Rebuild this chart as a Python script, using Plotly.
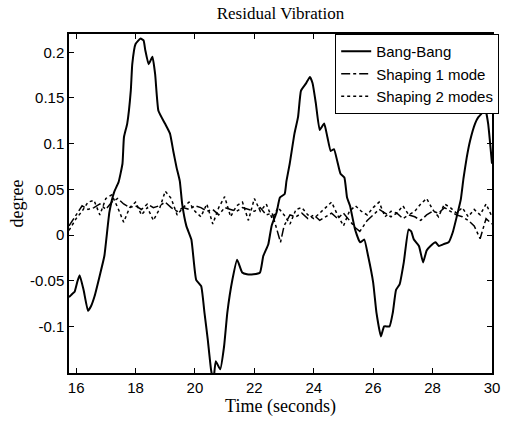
import plotly.graph_objects as go

# Bang-Bang response (time, degree)
bang_t = [15.76, 15.85, 15.95, 16.05, 16.12, 16.25, 16.40, 16.50, 16.62, 16.79, 16.95, 17.12,
          17.28, 17.43, 17.56, 17.61, 17.72, 17.84, 17.89, 18.00, 18.17, 18.27, 18.33, 18.44,
          18.57, 18.66, 18.77, 18.99, 19.16, 19.27, 19.38, 19.49, 19.57, 19.71, 19.88, 20.04,
          20.21, 20.32, 20.43, 20.54, 20.62, 20.70, 20.85, 20.98, 21.09, 21.26, 21.42, 21.59,
          21.75, 21.97, 22.19, 22.30, 22.47, 22.58, 22.75, 22.86, 23.02, 23.08, 23.19, 23.35,
          23.47, 23.57, 23.74, 23.87, 23.96, 24.07, 24.20, 24.35, 24.46, 24.57, 24.68, 24.79,
          24.90, 25.03, 25.12, 25.22, 25.39, 25.56, 25.70, 25.83, 26.00, 26.11, 26.26, 26.37,
          26.55, 26.66, 26.77, 26.89, 27.03, 27.19, 27.28, 27.37, 27.54, 27.68, 27.80, 27.93,
          28.10, 28.21, 28.37, 28.54, 28.68, 28.82, 28.95, 29.04, 29.15, 29.26, 29.43, 29.54,
          29.65, 29.76, 29.87, 30.00]
bang_y = [-0.068, -0.065, -0.062, -0.050, -0.044, -0.060, -0.083, -0.078, -0.067, -0.045, -0.023, 0.025,
          0.047, 0.058, 0.078, 0.107, 0.122, 0.158, 0.187, 0.209, 0.215, 0.213, 0.202, 0.187,
          0.195, 0.176, 0.136, 0.122, 0.111, 0.092, 0.074, 0.059, 0.034, 0.010, -0.005, -0.049,
          -0.056, -0.085, -0.114, -0.147, -0.160, -0.138, -0.147, -0.122, -0.085, -0.049, -0.027, -0.041,
          -0.043, -0.043, -0.041, -0.023, -0.010, 0.010, 0.025, 0.041, 0.045, 0.059, 0.078, 0.111,
          0.129, 0.158, 0.166, 0.173, 0.166, 0.144, 0.115, 0.122, 0.107, 0.092, 0.094, 0.081,
          0.067, 0.063, 0.041, 0.032, 0.006, -0.008, -0.005, -0.023, -0.052, -0.085, -0.111, -0.100,
          -0.100, -0.085, -0.060, -0.054, -0.030, 0.006, 0.004, -0.005, -0.012, -0.030, -0.017, -0.012,
          -0.008, -0.012, -0.010, -0.008, 0.003, 0.021, 0.039, 0.062, 0.085, 0.103, 0.122, 0.129,
          0.133, 0.140, 0.122, 0.078]

# Shaping 1 mode
s1_t = [15.76, 16.0, 16.2, 16.4, 16.6, 16.8, 17.0, 17.2, 17.4, 17.6, 17.8, 18.0, 18.2, 18.4,
        18.6, 18.8, 19.0, 19.2, 19.4, 19.6, 19.8, 20.0, 20.2, 20.4, 20.6, 20.8, 21.0, 21.2,
        21.4, 21.6, 21.8, 22.0, 22.2, 22.4, 22.6, 22.75, 22.88, 23.0, 23.2, 23.4, 23.6, 23.8,
        24.0, 24.2, 24.4, 24.6, 24.8, 25.0, 25.2, 25.4, 25.55, 25.8, 26.0, 26.2, 26.4, 26.6,
        26.8, 27.0, 27.2, 27.4, 27.6, 27.8, 28.0, 28.2, 28.4, 28.6, 28.8, 29.0, 29.2, 29.4,
        29.6, 29.8, 30.0]
s1_y = [0.010, 0.022, 0.032, 0.028, 0.030, 0.034, 0.028, 0.036, 0.040, 0.034, 0.030, 0.032, 0.028, 0.034,
        0.030, 0.032, 0.036, 0.030, 0.026, 0.030, 0.028, 0.032, 0.030, 0.026, 0.028, 0.022, 0.030, 0.028,
        0.026, 0.030, 0.028, 0.026, 0.030, 0.022, 0.024, 0.008, -0.008, 0.010, 0.022, 0.020, 0.024, 0.018,
        0.022, 0.016, 0.020, 0.024, 0.018, 0.024, 0.016, 0.008, 0.004, 0.016, 0.022, 0.028, 0.024, 0.020,
        0.024, 0.018, 0.022, 0.020, 0.016, 0.022, 0.026, 0.024, 0.030, 0.026, 0.022, 0.020, 0.016, 0.010,
        -0.004, 0.018, 0.012]

# Shaping 2 modes
s2_t = [15.76, 16.0, 16.2, 16.4, 16.6, 16.8, 17.0, 17.2, 17.4, 17.6, 17.8, 18.0, 18.2, 18.4,
        18.6, 18.8, 19.0, 19.2, 19.4, 19.6, 19.8, 20.0, 20.2, 20.4, 20.6, 20.8, 21.0, 21.2,
        21.4, 21.6, 21.8, 22.0, 22.2, 22.4, 22.6, 22.8, 23.0, 23.2, 23.4, 23.6, 23.8, 24.0,
        24.2, 24.4, 24.6, 24.8, 25.0, 25.2, 25.4, 25.6, 25.8, 26.0, 26.2, 26.4, 26.6, 26.8,
        27.0, 27.2, 27.4, 27.6, 27.8, 28.0, 28.2, 28.4, 28.6, 28.8, 29.0, 29.2, 29.4, 29.6,
        29.8, 30.0]
s2_y = [0.005, 0.018, 0.026, 0.036, 0.038, 0.022, 0.040, 0.044, 0.030, 0.014, 0.030, 0.036, 0.022, 0.030,
        0.016, 0.028, 0.048, 0.040, 0.022, 0.030, 0.036, 0.026, 0.020, 0.034, 0.012, 0.030, 0.042, 0.020,
        0.032, 0.036, 0.016, 0.040, 0.026, 0.034, 0.018, 0.030, 0.022, 0.012, 0.028, 0.030, 0.022, 0.018,
        0.024, 0.030, 0.036, 0.022, 0.010, 0.026, 0.032, 0.026, 0.022, 0.030, 0.036, 0.020, 0.026, 0.024,
        0.032, 0.022, 0.026, 0.034, 0.040, 0.028, 0.020, 0.034, 0.030, 0.024, 0.030, 0.020, 0.028, 0.022,
        0.034, 0.020]

x_ticks = [16, 18, 20, 22, 24, 26, 28, 30]
y_ticks = [-0.1, -0.05, 0, 0.05, 0.1, 0.15, 0.2]
y_tick_text = ["-0.1", "-0.05", "0", "0.05", "0.1", "0.15", "0.2"]

fig = go.Figure()
fig.add_trace(go.Scatter(x=bang_t, y=bang_y, mode="lines", name="Bang-Bang",
                         line=dict(color="black", width=2, shape="spline", smoothing=0.4)))
fig.add_trace(go.Scatter(x=s1_t, y=s1_y, mode="lines", name="Shaping 1 mode",
                         line=dict(color="black", width=1.5, dash="dashdot")))
fig.add_trace(go.Scatter(x=s2_t, y=s2_y, mode="lines", name="Shaping 2 modes",
                         line=dict(color="black", width=1.5, dash="dot")))

axis_common = dict(showline=True, linecolor="black", linewidth=1.5, mirror="ticks",
                   ticks="inside", ticklen=5, tickcolor="black", showgrid=False, zeroline=False,
                   tickfont=dict(family="Liberation Sans, Arial", size=15, color="black"))

fig.update_layout(
    width=508, height=423,
    margin=dict(l=69, r=9, t=34, b=50),
    paper_bgcolor="white", plot_bgcolor="white",
    title=dict(text="Residual Vibration", x=0.5, xanchor="center", xref="paper",
               y=0.968, yanchor="middle",
               font=dict(family="Liberation Serif, Times New Roman", size=17, color="black")),
    xaxis=dict(range=[15.76, 30], tickvals=x_ticks,
               title=dict(text="Time (seconds)", standoff=0,
                          font=dict(family="Liberation Serif, Times New Roman", size=18, color="black")),
               **axis_common),
    yaxis=dict(range=[-0.151, 0.220], tickvals=y_ticks, ticktext=y_tick_text,
               title=dict(text="degree", standoff=2,
                          font=dict(family="Liberation Serif, Times New Roman", size=18, color="black")),
               **axis_common),
    legend=dict(x=1.017, y=1.0, xanchor="right", yanchor="top", bgcolor="white",
                bordercolor="black", borderwidth=1, tracegroupgap=0, itemwidth=30,
                font=dict(family="Liberation Sans, Arial", size=15, color="black")),
    showlegend=True,
)

fig.write_html("out.html")
